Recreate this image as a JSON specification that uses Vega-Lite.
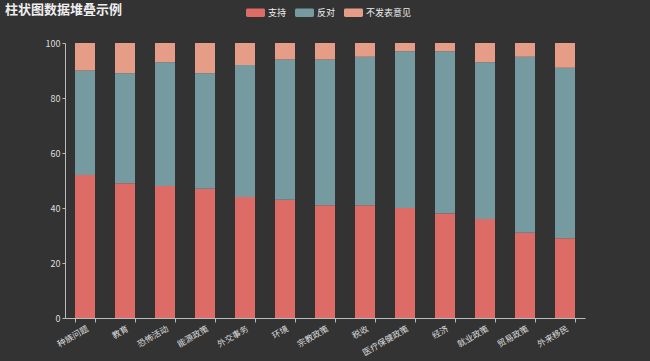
{
  "$schema": "https://vega.github.io/schema/vega-lite/v6.json",
  "autosize": {"type": "none"},
  "width": 520,
  "height": 275,
  "padding": {"left": 65, "top": 43, "right": 65, "bottom": 43},
  "background": "#333333",
  "title": {
    "text": "柱状图数据堆叠示例",
    "anchor": "start",
    "frame": "group",
    "dx": -60,
    "offset": -24,
    "baseline": "alphabetic",
    "font": "Noto Sans CJK SC",
    "fontSize": 13,
    "fontWeight": "bold",
    "color": "#eeeeee"
  },
  "data": {
    "values": [
      {"topic": "种族问题", "series": "支持", "order": 1, "value": 52},
      {"topic": "种族问题", "series": "反对", "order": 2, "value": 38},
      {"topic": "种族问题", "series": "不发表意见", "order": 3, "value": 10},
      {"topic": "教育", "series": "支持", "order": 1, "value": 49},
      {"topic": "教育", "series": "反对", "order": 2, "value": 40},
      {"topic": "教育", "series": "不发表意见", "order": 3, "value": 11},
      {"topic": "恐怖活动", "series": "支持", "order": 1, "value": 48},
      {"topic": "恐怖活动", "series": "反对", "order": 2, "value": 45},
      {"topic": "恐怖活动", "series": "不发表意见", "order": 3, "value": 7},
      {"topic": "能源政策", "series": "支持", "order": 1, "value": 47},
      {"topic": "能源政策", "series": "反对", "order": 2, "value": 42},
      {"topic": "能源政策", "series": "不发表意见", "order": 3, "value": 11},
      {"topic": "外交事务", "series": "支持", "order": 1, "value": 44},
      {"topic": "外交事务", "series": "反对", "order": 2, "value": 48},
      {"topic": "外交事务", "series": "不发表意见", "order": 3, "value": 8},
      {"topic": "环境", "series": "支持", "order": 1, "value": 43},
      {"topic": "环境", "series": "反对", "order": 2, "value": 51},
      {"topic": "环境", "series": "不发表意见", "order": 3, "value": 6},
      {"topic": "宗教政策", "series": "支持", "order": 1, "value": 41},
      {"topic": "宗教政策", "series": "反对", "order": 2, "value": 53},
      {"topic": "宗教政策", "series": "不发表意见", "order": 3, "value": 6},
      {"topic": "税收", "series": "支持", "order": 1, "value": 41},
      {"topic": "税收", "series": "反对", "order": 2, "value": 54},
      {"topic": "税收", "series": "不发表意见", "order": 3, "value": 5},
      {"topic": "医疗保健政策", "series": "支持", "order": 1, "value": 40},
      {"topic": "医疗保健政策", "series": "反对", "order": 2, "value": 57},
      {"topic": "医疗保健政策", "series": "不发表意见", "order": 3, "value": 3},
      {"topic": "经济", "series": "支持", "order": 1, "value": 38},
      {"topic": "经济", "series": "反对", "order": 2, "value": 59},
      {"topic": "经济", "series": "不发表意见", "order": 3, "value": 3},
      {"topic": "就业政策", "series": "支持", "order": 1, "value": 36},
      {"topic": "就业政策", "series": "反对", "order": 2, "value": 57},
      {"topic": "就业政策", "series": "不发表意见", "order": 3, "value": 7},
      {"topic": "贸易政策", "series": "支持", "order": 1, "value": 31},
      {"topic": "贸易政策", "series": "反对", "order": 2, "value": 64},
      {"topic": "贸易政策", "series": "不发表意见", "order": 3, "value": 5},
      {"topic": "外来移民", "series": "支持", "order": 1, "value": 29},
      {"topic": "外来移民", "series": "反对", "order": 2, "value": 62},
      {"topic": "外来移民", "series": "不发表意见", "order": 3, "value": 9}
    ]
  },
  "mark": {"type": "bar"},
  "encoding": {
    "x": {
      "field": "topic",
      "type": "nominal",
      "sort": null,
      "scale": {"paddingInner": 0.5, "paddingOuter": 0.25},
      "axis": {
        "title": null,
        "labelAngle": -30,
        "labelAlign": "right",
        "labelBaseline": "top",
        "labelFontSize": 8.5,
        "labelFont": "Noto Sans CJK SC",
        "labelColor": "#dddddd",
        "labelPadding": 2,
        "tickBand": "extent",
        "tickSize": 4,
        "tickColor": "#bbbbbb",
        "domainColor": "#bbbbbb",
        "labelOverlap": false
      }
    },
    "y": {
      "field": "value",
      "type": "quantitative",
      "stack": "zero",
      "scale": {"domain": [0, 100], "nice": false},
      "axis": {
        "title": null,
        "values": [0, 20, 40, 60, 80, 100],
        "grid": false,
        "labelFontSize": 9,
        "labelFont": "Noto Sans CJK SC",
        "labelColor": "#dddddd",
        "labelPadding": 2,
        "tickSize": 3,
        "tickColor": "#bbbbbb",
        "domainColor": "#bbbbbb"
      }
    },
    "color": {
      "field": "series",
      "type": "nominal",
      "scale": {"domain": ["支持", "反对", "不发表意见"], "range": ["#dd6b66", "#759aa0", "#e69d87"]},
      "legend": {
        "title": null,
        "orient": "none",
        "direction": "horizontal",
        "legendX": 181,
        "legendY": -40,
        "symbolType": "M-0.85,-0.45H0.85Q1,-0.45 1,-0.3V0.3Q1,0.45 0.85,0.45H-0.85Q-1,0.45 -1,0.3V-0.3Q-1,-0.45 -0.85,-0.45Z",
        "symbolSize": 361,
        "symbolStrokeWidth": 0,
        "symbolOpacity": 1,
        "labelFontSize": 9,
        "labelFont": "Noto Sans CJK SC",
        "labelColor": "#eeeeee",
        "labelOffset": 3,
        "columnPadding": 8
      }
    },
    "order": {"field": "order", "type": "quantitative"}
  },
  "config": {"view": {"stroke": null}}
}
